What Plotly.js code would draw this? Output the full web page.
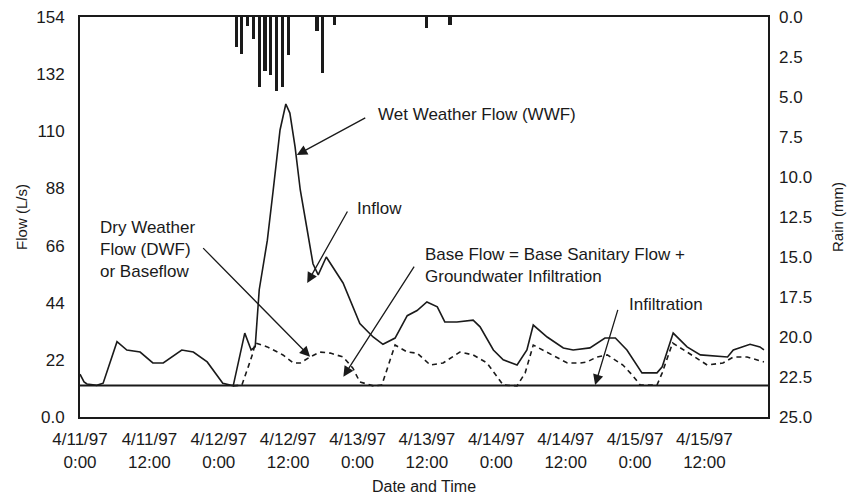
<!DOCTYPE html>
<html>
<head>
<meta charset="utf-8">
<script src="https://cdn.plot.ly/plotly-3.0.1.min.js"></script>
<style>html,body{margin:0;padding:0;background:#fff;}#chart{width:849px;height:495px;}</style>
</head>
<body>
<div id="chart"></div>
<script>
// Hours since 4/11/97 0:00
const wwfHours = [0.0,0.7,1.2,2.9,4.0,6.4,8.1,10.4,12.6,14.4,17.6,19.6,22.0,23.7,24.7,26.5,28.5,29.6,30.3,31.0,32.4,33.4,34.6,35.6,36.3,37.2,38.1,39.3,40.3,41.2,41.7,42.6,45.5,48.4,50.7,52.4,54.5,56.6,58.3,60.0,61.8,63.1,65.2,68.0,69.2,71.5,73.2,75.6,77.3,78.4,80.8,83.6,85.3,88.2,90.8,92.6,94.6,97.2,99.8,100.7,102.6,105.0,107.3,112.0,113.0,115.9,117.6,118.3];
const wwfFlow  = [16.5,13.5,12.7,12.2,13.0,29.0,25.8,25.0,20.8,20.8,25.8,25.0,21.2,16.2,13.0,12.0,32.3,25.8,27.0,49.0,68.0,87.0,110.5,120.5,117.0,104.0,87.4,72.0,59.0,54.7,57.0,61.6,51.6,36.0,30.8,28.0,30.4,39.0,41.0,44.3,42.4,36.6,36.6,37.3,34.7,25.8,22.0,20.0,25.8,35.4,30.8,26.6,25.8,26.6,30.4,30.4,25.8,17.0,17.0,19.3,32.3,27.0,23.9,23.1,25.8,28.0,27.0,25.8];

const dwfHours = [26.5,28.0,29.1,29.9,30.3,32.4,35.1,36.9,38.1,39.8,41.5,43.3,45.5,47.2,48.4,50.7,52.2,53.3,54.5,56.6,58.3,60.6,62.8,65.7,68.0,70.4,72.1,73.2,75.6,77.0,78.4,80.8,84.3,86.5,87.7,89.4,91.2,93.9,95.5,96.9,99.8,100.7,102.5,105.0,108.5,111.2,113.0,115.4,118.3];
const dwfFlow  = [12.0,12.3,19.3,24.6,28.5,27.0,23.9,20.8,20.8,23.1,25.0,24.6,23.1,18.8,13.5,12.0,12.3,19.3,27.7,25.0,24.6,20.0,20.8,25.0,23.9,20.8,15.4,12.3,12.0,17.0,27.7,25.0,20.8,20.8,21.2,23.1,23.9,20.0,16.2,12.3,12.3,17.0,28.5,25.0,20.0,20.8,23.1,23.1,21.2];

const infilHours = [0, 119];
const infilFlow  = [12.1, 12.1];

const rainHours = [27,28,29,30,31,32,33,34,35,36,41,42,44,60,64];
const rainMm    = [1.9,2.3,0.56,1.4,4.4,3.4,3.6,4.6,4.4,2.4,0.9,3.5,0.5,0.7,0.5];

const tickHours  = [0,12,24,36,48,60,72,84,96,108];
const tickLabels = ['4/11/97<br>0:00','4/11/97<br>12:00','4/12/97<br>0:00','4/12/97<br>12:00','4/13/97<br>0:00','4/13/97<br>12:00','4/14/97<br>0:00','4/14/97<br>12:00','4/15/97<br>0:00','4/15/97<br>12:00'];
const flowTicks  = [0,22,44,66,88,110,132,154];
const flowLabels = ['0.0','22','44','66','88','110','132','154'];
const rainTicks  = [0,2.5,5,7.5,10,12.5,15,17.5,20,22.5,25];

const FONT = 'Arial, "Liberation Sans", sans-serif';
const INK = '#1a1a1a';

const traces = [
  {x: infilHours, y: infilFlow, type: 'scatter', mode: 'lines', line: {color: INK, width: 2}, hoverinfo: 'skip'},
  {x: dwfHours, y: dwfFlow, type: 'scatter', mode: 'lines', line: {color: INK, width: 1.6, dash: '5px,4px'}},
  {x: wwfHours, y: wwfFlow, type: 'scatter', mode: 'lines', line: {color: INK, width: 1.6}},
  {x: rainHours, y: rainMm, type: 'bar', yaxis: 'y2', base: 0, width: 0.55, marker: {color: INK, line: {width: 0}}}
];

function arrow(hx, hy, tx, ty) {
  return {x: hx, y: hy, ax: tx, ay: ty, xref: 'x', yref: 'y', axref: 'x', ayref: 'y',
          text: '', showarrow: true, arrowhead: 2, arrowsize: 1.6, arrowwidth: 1.3, arrowcolor: INK};
}
function label(x, y, txt) {
  return {x: x, y: y, xref: 'x', yref: 'y', text: txt, showarrow: false, xanchor: 'left', yanchor: 'middle',
          align: 'left', font: {family: FONT, size: 17, color: INK}};
}

const layout = {
  width: 849, height: 495,
  margin: {l: 80, r: 81, t: 17, b: 78},
  paper_bgcolor: '#fff', plot_bgcolor: '#fff',
  showlegend: false,
  bargap: 0,
  font: {family: FONT, size: 17, color: INK},
  xaxis: {
    range: [0, 119], tickvals: tickHours, ticktext: tickLabels, ticks: '', showgrid: false, zeroline: false,
    showline: true, linecolor: INK, linewidth: 2, mirror: true, ticklabelstandoff: 6,
    tickfont: {family: FONT, size: 17, color: INK},
    title: {text: 'Date and Time', font: {family: FONT, size: 16, color: INK}, standoff: 10}
  },
  yaxis: {
    range: [0, 154], tickvals: flowTicks, ticktext: flowLabels, ticks: '', showgrid: false, zeroline: false,
    showline: true, linecolor: INK, linewidth: 2, mirror: true, ticklabelstandoff: 10,
    tickfont: {family: FONT, size: 17, color: INK},
    title: {text: 'Flow (L/s)', font: {family: FONT, size: 15, color: INK}, standoff: 5}
  },
  yaxis2: {
    range: [25, 0], overlaying: 'y', side: 'right', tickvals: rainTicks, tickformat: '.1f', ticks: '',
    showgrid: false, zeroline: false, showline: false, ticklabelstandoff: 10,
    tickfont: {family: FONT, size: 17, color: INK},
    title: {text: 'Rain (mm)', font: {family: FONT, size: 15, color: INK}, standoff: 21}
  },
  annotations: [
    arrow(37.5, 100.9, 49.6, 115.5),
    label(51.2, 116.3, 'Wet Weather Flow (WWF)'),
    arrow(39.3, 51.6, 46.4, 79.7),
    label(47.6, 80.1, 'Inflow'),
    arrow(39.8, 23.2, 21.05, 65.6),
    label(3.1, 64.3, 'Dry Weather<br>Flow (DWF)<br>or Baseflow'),
    arrow(45.55, 15.5, 57.96, 58.5),
    label(59.4, 58.5, 'Base Flow = Base Sanitary Flow +<br>Groundwater Infiltration'),
    arrow(89.1, 12.3, 93.1, 41.8),
    label(94.6, 43.5, 'Infiltration')
  ]
};

Plotly.newPlot('chart', traces, layout, {displayModeBar: false, staticPlot: true});
</script>
</body>
</html>
